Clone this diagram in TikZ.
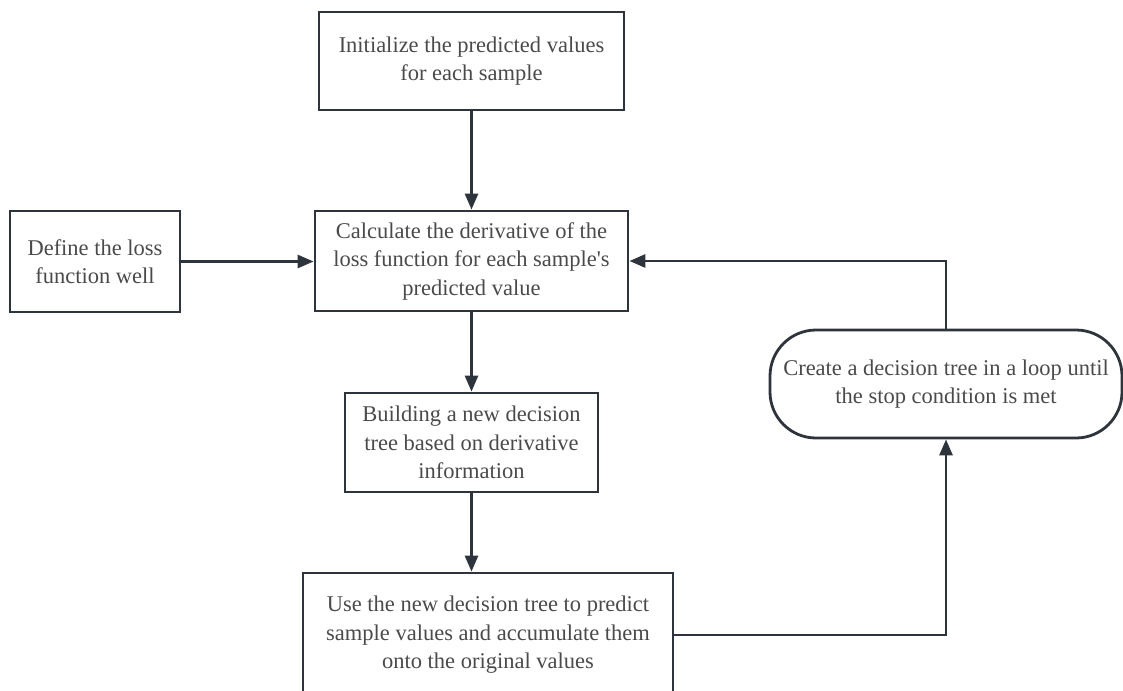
\documentclass[tikz,border=0pt]{standalone}
\usepackage{fontspec}
\setmainfont{Liberation Serif}
\usepackage[HTML]{xcolor}
\usepackage{tikz}
\usetikzlibrary{positioning, arrows.meta}

\definecolor{linecol}{HTML}{2E343B}
\definecolor{textcol}{HTML}{4A4A4A}

\begin{document}
\begin{tikzpicture}[x=1pt, y=-1pt,
  box/.style={draw=linecol, line width=2.8pt, text=textcol, align=center,
    font=\fontsize{22.5}{28.5}\selectfont, inner sep=0pt},
  loopbox/.style={box, rounded corners=46pt},
  arr/.style={draw=linecol, line width=2.8pt, -{Triangle[length=16pt, width=13pt]}}]

\useasboundingbox (0,0) rectangle (1123,690);
\clip (0,0) rectangle (1123,690);

% --- MAIN COLUMN ---
\node[box, minimum width=305pt, minimum height=98pt] (init) at (471.5, 61) {Initialize the predicted values\\for each sample};
\node[box, minimum width=313pt, minimum height=100pt] (calc) at (471.5, 261) {Calculate the derivative of the\\loss function for each sample\textquotesingle s\\predicted value};
\node[box, minimum width=253pt, minimum height=99pt] (build) at (471.5, 442.5) {Building a new decision\\tree based on derivative\\information};
\node[box, minimum width=370pt, minimum height=124pt] (use) at (488, 635) {Use the new decision tree to predict\\sample values and accumulate them\\onto the original values};

% --- SIDE BOXES ---
\node[box, minimum width=170pt, minimum height=101pt] (define) at (95, 261.5) {Define the loss\\function well};
\node[loopbox, minimum width=352pt, minimum height=108pt] (loop) at (946, 384) {Create a decision tree in a loop until\\the stop condition is met};

% --- CONNECTORS ---
\draw[arr] (init) -- (calc);
\draw[arr] (define.east) -- (define.east -| calc.west);
\draw[arr] (calc) -- (build);
\draw[arr] (build.south) -- (build.south |- use.north);
\draw[arr] (use.east) -| (loop.south);
\draw[arr] (loop.north) |- (calc.east);
\end{tikzpicture}
\end{document}
